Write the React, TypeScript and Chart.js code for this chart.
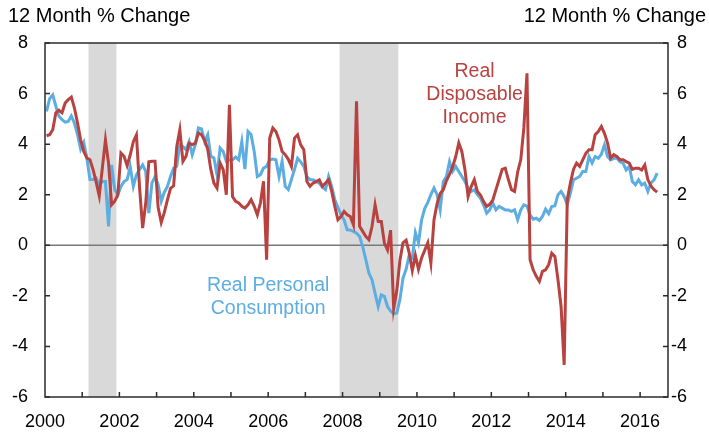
import React, { useEffect, useRef } from 'react';
import { Chart, registerables } from 'chart.js';

Chart.register(...registerables);

// Monthly data, Jan 2000 .. Jun 2016 (12 Month % Change)
const START_YEAR = 2000;

const incomeValues: number[] = [
  4.33, 4.37, 4.57, 5.24, 5.34, 5.24, 5.63, 5.76, 5.86, 5.43, 4.83, 4.17, // 2000
  3.71, 3.45, 3.38, 3.0, 2.5, 1.95, 3.05, 4.17, 3.25, 1.6, 1.74, 2.0, // 2001
  3.65, 3.52, 3.15, 3.58, 4.1, 4.37, 2.3, 0.68, 1.67, 3.3, 3.32, 3.32, // 2002
  1.5, 0.9, 1.3, 1.8, 2.25, 2.35, 3.9, 4.57, 3.32, 3.52, 4.04, 3.98, // 2003
  4.04, 4.44, 4.37, 4.15, 3.8, 3.0, 2.46, 2.26, 3.25, 2.99, 2.0, 5.56, // 2004
  1.93, 1.74, 1.67, 1.54, 1.47, 1.6, 1.8, 1.54, 1.21, 1.67, 2.53, -0.57, // 2005
  4.24, 4.64, 4.5, 4.17, 3.71, 3.58, 3.4, 3.12, 4.24, 4.37, 3.97, 3.78, // 2006
  2.52, 2.33, 2.46, 2.52, 2.59, 2.33, 2.46, 2.59, 2.13, 1.54, 1.01, 1.14, // 2007
  1.34, 1.21, 1.14, 0.81, 5.69, 0.75, 0.55, 0.35, 0.22, 0.74, 1.6, 0.94, // 2008
  0.94, 0.09, -0.18, 0.6, -2.5, -1.8, -0.6, 0.1, 0.2, -0.3, -1.0, -0.4, // 2009
  -0.95, -0.5, -0.2, 0.1, -0.7, 1.0, 1.65, 2.05, 2.2, 2.55, 2.8, 3.1, // 2010
  3.5, 4.05, 3.7, 2.98, 1.93, 2.32, 2.59, 2.13, 1.99, 1.73, 1.54, 1.62, // 2011
  1.8, 2.2, 2.6, 3.0, 3.05, 2.6, 2.2, 2.13, 2.9, 3.38, 4.65, 6.8, // 2012
  -0.57, -0.97, -1.23, -1.43, -1.03, -0.97, -0.77, -0.31, -0.44, -1.36, -2.42, -4.73, // 2013
  1.8, 2.46, 3.0, 3.25, 3.12, 3.38, 3.64, 3.78, 3.78, 4.37, 4.5, 4.7, // 2014
  4.43, 4.04, 3.45, 3.58, 3.51, 3.38, 3.38, 3.31, 3.25, 3.0, 3.05, 3.05, // 2015
  2.98, 3.18, 2.6, 2.35, 2.2, 2.1, // 2016
];

const consumptionValues: number[] = [
  5.3, 5.8, 5.95, 5.5, 5.1, 4.97, 4.87, 4.9, 5.12, 4.83, 4.37, 3.8, // 2000
  4.07, 3.45, 2.6, 2.6, 2.66, 2.4, 2.52, 2.52, 0.75, 3.18, 2.2, 2.0, // 2001
  2.33, 2.52, 2.6, 3.1, 2.33, 2.79, 2.99, 3.18, 2.92, 1.27, 2.46, 2.72, // 2002
  2.4, 1.74, 2.1, 2.33, 2.72, 3.05, 3.12, 3.98, 3.91, 3.78, 4.1, 3.58, // 2003
  3.98, 4.64, 4.6, 4.1, 4.37, 3.52, 3.45, 2.79, 3.85, 3.71, 3.32, 3.38, // 2004
  3.38, 3.49, 3.38, 4.1, 3.01, 4.5, 4.37, 3.71, 2.72, 2.79, 3.05, 3.12, // 2005
  3.38, 3.41, 3.38, 2.72, 3.32, 2.33, 2.2, 2.6, 3.0, 3.44, 3.3, 3.12, // 2006
  2.72, 2.59, 2.59, 2.52, 2.46, 2.3, 2.2, 2.72, 2.33, 1.8, 1.5, 1.2, // 2007
  1.0, 0.61, 0.6, 0.55, 0.48, 0.35, -0.05, -0.57, -1.1, -1.36, -1.9, -2.42, // 2008
  -1.96, -2.02, -2.42, -2.6, -2.71, -2.68, -2.15, -1.3, -0.95, -0.4, -0.5, 0.5, // 2009
  0.1, 1.0, 1.45, 1.7, 2.0, 2.26, 2.0, 1.4, 2.52, 2.72, 3.31, 2.92, // 2010
  3.12, 2.92, 2.72, 2.52, 2.26, 2.13, 2.19, 2.0, 1.86, 1.6, 1.27, 1.4, // 2011
  1.67, 1.4, 1.54, 1.47, 1.4, 1.4, 1.34, 1.4, 1.01, 1.4, 1.6, 1.55, // 2012
  1.2, 1.03, 1.07, 0.98, 1.14, 1.43, 1.25, 1.53, 1.56, 2.0, 2.13, 1.93, // 2013
  1.6, 2.06, 2.59, 2.65, 2.72, 2.92, 2.92, 3.51, 3.25, 3.51, 3.44, 3.6, // 2014
  3.97, 3.51, 3.38, 3.44, 3.45, 3.3, 3.25, 2.98, 3.12, 2.52, 2.39, 2.59, // 2015
  2.39, 2.46, 2.13, 2.46, 2.59, 2.85, // 2016
];

const xTickYears = [2000, 2002, 2004, 2006, 2008, 2010, 2012, 2014, 2016];
const xMinorYears = [2001, 2002, 2003, 2004, 2005, 2006, 2007, 2008, 2009, 2010, 2011, 2012, 2013, 2014, 2015, 2016];
const yTickValues = [-6, -4, -2, 0, 2, 4, 6, 8];
const recessions: [number, number][] = [
  [2001.17, 2001.92],
  [2007.92, 2009.5],
];

const incomeLabel = ['Real', 'Disposable', 'Income'];
const consumptionLabel = ['Real Personal', 'Consumption'];
const axisTitle = '12 Month % Change';

const RED = '#b8423f';
const BLUE = '#5cade2';
const FONT = "'Liberation Sans', Arial, Helvetica, sans-serif";

const toPoints = (vals: number[]) =>
  vals.map((v, i) => ({ x: START_YEAR + (i + 0.5) / 12, y: v }));

const decorPlugin = {
  id: 'decor',
  beforeDatasetsDraw(chart: any) {
    const { ctx, chartArea: a, scales } = chart;
    const xs = scales.x;
    const ys = scales.y;
    ctx.save();
    ctx.fillStyle = '#d9d9d9';
    for (const [s, e] of recessions) {
      const x0 = xs.getPixelForValue(s);
      const x1 = xs.getPixelForValue(e);
      ctx.fillRect(x0, a.top, x1 - x0, a.bottom - a.top);
    }
    const y0 = ys.getPixelForValue(0);
    ctx.strokeStyle = '#7a7a7a';
    ctx.lineWidth = 1.6;
    ctx.beginPath();
    ctx.moveTo(a.left, y0);
    ctx.lineTo(a.right, y0);
    ctx.stroke();
    ctx.restore();
  },
  afterDatasetsDraw(chart: any) {
    const { ctx, chartArea: a, scales } = chart;
    const xs = scales.x;
    const ys = scales.y;
    ctx.save();
    ctx.strokeStyle = '#2b2b2b';
    ctx.lineWidth = 1.5;
    ctx.strokeRect(a.left, a.top, a.right - a.left, a.bottom - a.top);
    ctx.beginPath();
    const tl = 5;
    for (const v of yTickValues) {
      const py = ys.getPixelForValue(v);
      ctx.moveTo(a.left, py);
      ctx.lineTo(a.left + tl, py);
      ctx.moveTo(a.right, py);
      ctx.lineTo(a.right - tl, py);
    }
    for (const yr of xMinorYears) {
      const px = xs.getPixelForValue(yr);
      ctx.moveTo(px, a.bottom);
      ctx.lineTo(px, a.bottom - tl);
    }
    ctx.stroke();

    // series annotations
    ctx.font = `19.5px ${FONT}`;
    ctx.textAlign = 'center';
    ctx.textBaseline = 'middle';
    ctx.fillStyle = RED;
    const rx = xs.getPixelForValue(2011.55);
    const ry = ys.getPixelForValue(6.86);
    incomeLabel.forEach((t, i) => ctx.fillText(t, rx, ry + i * 23));
    ctx.fillStyle = BLUE;
    const bx = xs.getPixelForValue(2006.0);
    const by = ys.getPixelForValue(-1.6);
    consumptionLabel.forEach((t, i) => ctx.fillText(t, bx, by + i * 23));

    // axis titles
    ctx.fillStyle = '#000';
    ctx.font = `20px ${FONT}`;
    ctx.textAlign = 'left';
    ctx.fillText(axisTitle, 8, 16);
    ctx.textAlign = 'right';
    ctx.fillText(axisTitle, 706, 16);
    ctx.restore();
  },
};

export default function App() {
  const ref = useRef<HTMLCanvasElement | null>(null);

  useEffect(() => {
    document.body.style.margin = '0';
    const canvas = ref.current;
    if (!canvas) return;
    const tickFont = { family: FONT, size: 18 };
    const chart = new Chart(canvas, {
      type: 'line',
      data: {
        datasets: [
          {
            label: 'Real Disposable Income',
            data: toPoints(incomeValues),
            borderColor: RED,
            borderWidth: 3,
            pointRadius: 0,
            tension: 0,
            fill: false,
          },
          {
            label: 'Real Personal Consumption',
            data: toPoints(consumptionValues),
            borderColor: BLUE,
            borderWidth: 3,
            pointRadius: 0,
            tension: 0,
            fill: false,
          },
        ],
      },
      options: {
        responsive: false,
        animation: false,
        devicePixelRatio: 1,
        layout: { padding: { top: 43, left: 0, right: 22, bottom: 0 } },
        plugins: {
          legend: { display: false },
          tooltip: { enabled: false },
        },
        scales: {
          x: {
            type: 'linear',
            min: 2000,
            max: 2016.75,
            grid: { display: false, drawTicks: false },
            border: { display: false },
            afterFit: (s: any) => {
              s.height = 35;
            },
            afterBuildTicks: (s: any) => {
              s.ticks = xTickYears.map((v) => ({ value: v }));
            },
            ticks: {
              font: tickFont,
              color: '#000',
              padding: 14,
              maxRotation: 0,
              autoSkip: false,
              callback: (v: any) => String(v),
            },
          },
          y: {
            type: 'linear',
            position: 'left',
            min: -6,
            max: 8,
            grid: { display: false, drawTicks: false },
            border: { display: false },
            afterFit: (s: any) => {
              s.width = 45;
            },
            afterBuildTicks: (s: any) => {
              s.ticks = yTickValues.map((v) => ({ value: v }));
            },
            ticks: {
              font: tickFont,
              color: '#000',
              padding: 17,
              callback: (v: any) => String(v),
            },
          },
          y2: {
            type: 'linear',
            position: 'right',
            min: -6,
            max: 8,
            grid: { display: false, drawTicks: false },
            border: { display: false },
            afterFit: (s: any) => {
              s.width = 19;
            },
            afterBuildTicks: (s: any) => {
              s.ticks = yTickValues.map((v) => ({ value: v }));
            },
            ticks: {
              font: tickFont,
              color: '#000',
              padding: 9,
              crossAlign: 'far',
              callback: (v: any) => String(v),
            },
          },
        },
      },
      plugins: [decorPlugin],
    } as any);
    return () => chart.destroy();
  }, []);

  return (
    <div style={{ width: 709, height: 432 }}>
      <canvas ref={ref} width={709} height={432} style={{ width: 709, height: 432, display: 'block' }} />
    </div>
  );
}
